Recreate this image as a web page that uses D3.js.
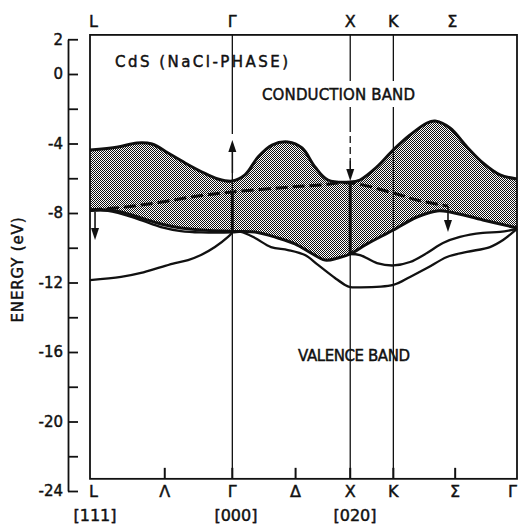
<!DOCTYPE html>
<html>
<head>
<meta charset="utf-8">
<script src="https://cdn.jsdelivr.net/npm/d3@7"></script>
<style>
  body { margin: 0; background: #fff; }
  svg text { font-family: "DejaVu Sans", "Liberation Sans", Arial, sans-serif; fill: #111; font-size: 15px;
    stroke: #111; stroke-width: 0.45px; }
</style>
</head>
<body>
<div id="chart"></div>
<script>
var svgWidth = 523;
var svgHeight = 527;

// symmetry points along the k path (abscissa in path units)
var symLabels = ["L", "Λ", "Γ", "Δ", "X", "K", "Σ", "Γ"];
var symK = [0, 0.52, 0.99, 1.43, 1.81, 2.11, 2.54, 2.97];
var topLabels = ["L", "Γ", "X", "K", "Σ"];
var topK = [0, 0.99, 1.81, 2.11, 2.52];
var dirLabels = ["[111]", "[000]", "[020]"];
var dirK = [0.035, 1.015, 1.843];

// energy axis
var energyTicks = d3.range(2, -25, -2);
var energyLabels = [2, 0, -4, -8, -12, -16, -20, -24];
var kRange = [0, 2.97];
var eFrame = [2.25, -23.3];

// shaded conduction band region: upper and lower edges [k, E]
var cbTop = [[0, -4.37], [0.195, -4.20], [0.327, -3.97], [0.431, -4.03], [0.543, -4.55],
  [0.661, -5.12], [0.779, -5.64], [0.890, -6.04], [0.99, -6.16], [1.078, -5.81],
  [1.169, -4.78], [1.266, -4.09], [1.377, -3.91], [1.475, -4.26], [1.565, -5.35],
  [1.655, -6.10], [1.81, -6.22], [1.878, -6.10], [1.996, -5.35], [2.11, -4.37],
  [2.226, -3.51], [2.344, -2.82], [2.40, -2.71], [2.504, -3.11], [2.622, -4.20],
  [2.733, -5.12], [2.852, -5.81], [2.97, -6.04]];
var cbBot = [[0, -7.83], [0.125, -7.83], [0.216, -7.94], [0.355, -8.29], [0.494, -8.63],
  [0.633, -8.86], [0.772, -8.98], [0.99, -9.06], [1.148, -9.09], [1.308, -9.44],
  [1.426, -9.78], [1.537, -10.30], [1.635, -10.71], [1.725, -10.59], [1.81, -10.36],
  [1.927, -9.78], [2.11, -8.98], [2.274, -8.23], [2.414, -7.88], [2.504, -7.94],
  [2.733, -8.40], [2.97, -8.86]];

// valence bands
var bandA = [[0, -7.88], [0.125, -7.88], [0.334, -8.35], [0.494, -8.81], [0.633, -9.04],
  [0.772, -9.12], [0.99, -9.12], [1.05, -9.09], [1.148, -9.44], [1.259, -9.96],
  [1.377, -10.13], [1.495, -10.42], [1.586, -10.99], [1.704, -11.74], [1.774, -12.14],
  [1.81, -12.26], [1.864, -12.28], [2.11, -12.14], [2.226, -11.68], [2.344, -11.17],
  [2.483, -10.53], [2.622, -10.24], [2.782, -9.96], [2.873, -9.55], [2.97, -8.92]];
var bandB = [[1.81, -10.36], [1.878, -10.42], [1.996, -10.88], [2.11, -11.02], [2.226, -10.82],
  [2.344, -10.30], [2.455, -9.73], [2.573, -9.38], [2.733, -9.15], [2.852, -9.09],
  [2.97, -8.92]];
var bandC = [[0, -11.86], [0.216, -11.68], [0.355, -11.45], [0.494, -11.11], [0.591, -10.88],
  [0.682, -10.71], [0.772, -10.42], [0.869, -9.96], [0.960, -9.38], [0.99, -9.12]];

// dashed transition path through the gap
var transition = [[0, -7.83], [0.25, -7.65], [0.5, -7.37], [0.75, -7.02], [0.99, -6.79],
  [1.4, -6.50], [1.6, -6.39], [1.81, -6.27], [2.11, -6.85], [2.274, -7.25],
  [2.448, -7.54], [2.49, -7.60]];

// arrows [k, E from, E to]
var arrows = [[0.035, -7.94, -9.55], [0.99, -5.70, -3.80], [1.81, -5.0, -6.16], [2.49, -7.60, -9.10]];

// guide lines at symmetry points [k, E from, E to]
var guideThin = [[0.99, 2.25, -3.45], [0.99, -5.70, -23.3], [1.81, 2.25, -2.94], [1.81, -6.2, -23.3], [2.11, 2.25, -23.3]];
var guideDashed = [[1.81, -2.94, -5.0]];
var guideThick = [[0.99, -6.79, -9.09], [1.81, -6.27, -10.36]];

var x = d3.scaleLinear().domain(kRange).range([90, 517]);
var y = d3.scaleLinear().domain([2, -24]).range([39.25, 491]);

var svg = d3.select("#chart").append("svg")
  .attr("width", svgWidth)
  .attr("height", svgHeight);

var defs = svg.append("defs");
var pat = defs.append("pattern")
  .attr("id", "checker")
  .attr("width", 2).attr("height", 2)
  .attr("patternUnits", "userSpaceOnUse");
pat.append("rect").attr("width", 2).attr("height", 2).attr("fill", "#fff");
pat.append("rect").attr("x", 0).attr("y", 0).attr("width", 1).attr("height", 1).attr("fill", "#111");
pat.append("rect").attr("x", 1).attr("y", 1).attr("width", 1).attr("height", 1).attr("fill", "#111");

var lineGen = d3.line()
  .x(d => x(d[0]))
  .y(d => y(d[1]))
  .curve(d3.curveCatmullRom.alpha(0.5));

// shaded region
var pTop = lineGen(cbTop);
var pBot = lineGen(cbBot.slice().reverse());
svg.append("path")
  .attr("d", pTop + "L" + pBot.slice(1) + "Z")
  .attr("fill", "url(#checker)");

// guide lines
function vline(d) {
  return svg.append("line")
    .attr("x1", x(d[0])).attr("x2", x(d[0]))
    .attr("y1", y(d[1])).attr("y2", y(d[2]))
    .attr("stroke", "#111");
}
guideThin.forEach(d => vline(d).attr("stroke-width", 1.3));
guideDashed.forEach(d => vline(d).attr("stroke-width", 1.3).attr("stroke-dasharray", "7,4"));
guideThick.forEach(d => vline(d).attr("stroke-width", 3));

// band curves
svg.append("path").attr("d", lineGen(cbTop))
  .attr("fill", "none").attr("stroke", "#111").attr("stroke-width", 3);
svg.append("path").attr("d", lineGen(cbBot))
  .attr("fill", "none").attr("stroke", "#111").attr("stroke-width", 3);
[bandA, bandB, bandC].forEach(function (b) {
  svg.append("path").attr("d", lineGen(b))
    .attr("fill", "none").attr("stroke", "#111").attr("stroke-width", 2.3);
});
svg.append("path").attr("d", lineGen(transition))
  .attr("fill", "none").attr("stroke", "#111").attr("stroke-width", 3)
  .attr("stroke-dasharray", "12,5");

// arrows
arrows.forEach(function (a) {
  var px = x(a[0]), y0 = y(a[1]), y1 = y(a[2]);
  var dir = Math.sign(y1 - y0), head = 12, hw = 4;
  svg.append("line")
    .attr("x1", px).attr("x2", px)
    .attr("y1", y0).attr("y2", y1 - dir * head)
    .attr("stroke", "#111").attr("stroke-width", 1.6);
  svg.append("path")
    .attr("d", `M${px},${y1}L${px - hw},${y1 - dir * head}L${px + hw},${y1 - dir * head}Z`)
    .attr("fill", "#111");
});

// frame
svg.append("rect")
  .attr("x", x(kRange[0])).attr("y", y(eFrame[0]))
  .attr("width", x(kRange[1]) - x(kRange[0]))
  .attr("height", y(eFrame[1]) - y(eFrame[0]))
  .attr("fill", "none").attr("stroke", "#111").attr("stroke-width", 1.8);

// small ticks at the bottom of the frame
symK.slice(1, -1).forEach(function (k) {
  svg.append("line")
    .attr("x1", x(k)).attr("x2", x(k))
    .attr("y1", y(eFrame[1])).attr("y2", y(eFrame[1]) - 11)
    .attr("stroke", "#111").attr("stroke-width", 2);
});

// energy axis
var leftAxis = d3.axisLeft(y)
  .tickValues(energyTicks)
  .tickSizeInner(-10)
  .tickSizeOuter(0)
  .tickPadding(5)
  .tickFormat(d => energyLabels.includes(d) ? String(d) : "");
var yAxis = svg.append("g")
  .attr("transform", "translate(68,0)")
  .call(leftAxis);
yAxis.selectAll("path, line").attr("stroke", "#111").attr("stroke-width", 1.8);
yAxis.selectAll("text")
  .style("font-size", "15px")
  .style("font-family", "'DejaVu Sans', sans-serif")
  .attr("fill", "#111");

svg.append("text")
  .attr("transform", "translate(23,270) rotate(-90)")
  .attr("text-anchor", "middle")
  .attr("textLength", 105)
  .text("ENERGY (eV)");

// symmetry labels
function kLabel(lbl, k, i, n, yy) {
  var anchor = i === 0 ? "start" : (i === n - 1 ? "end" : "middle");
  var dx = i === 0 ? -1 : 0;
  svg.append("text")
    .attr("x", x(k) + dx).attr("y", yy)
    .attr("text-anchor", anchor)
    .style("font-size", "16px")
    .text(lbl);
}
symLabels.forEach((l, i) => kLabel(l, symK[i], i, symLabels.length, 497));
topLabels.forEach((l, i) => kLabel(l, topK[i], i, 99, 27));
dirLabels.forEach(function (l, i) {
  svg.append("text")
    .attr("x", x(dirK[i])).attr("y", 521)
    .attr("text-anchor", "middle")
    .style("font-size", "16px")
    .text(l);
});

// annotations
svg.append("text").attr("x", 115).attr("y", 67)
  .attr("textLength", 173).text("CdS (NaCl-PHASE)");
svg.append("rect").attr("x", 258).attr("y", 81).attr("width", 162).attr("height", 26)
  .attr("fill", "#fff");
svg.append("text").attr("x", 262).attr("y", 100)
  .attr("textLength", 153).text("CONDUCTION BAND");
svg.append("text").attr("x", 298).attr("y", 361)
  .attr("textLength", 112).text("VALENCE BAND");
</script>
</body>
</html>
